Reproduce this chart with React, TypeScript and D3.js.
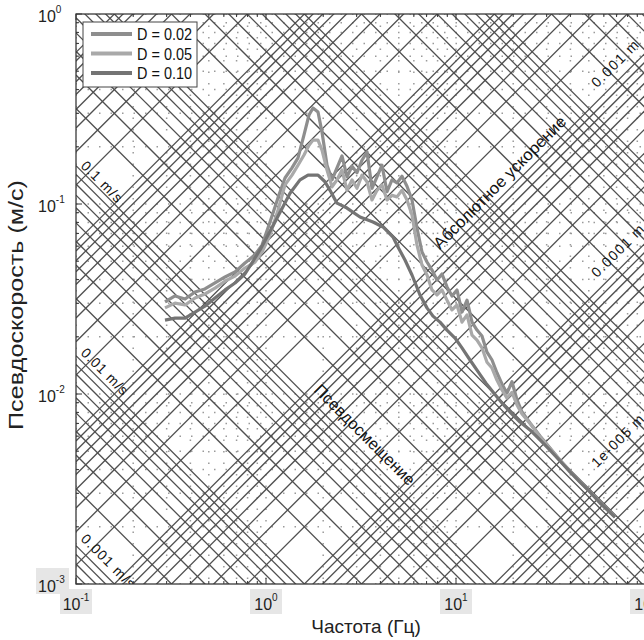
import React from 'react';
import * as d3 from 'd3';

const FONT = '"Liberation Sans", Arial, Helvetica, sans-serif';

// Frequencies (Hz) shared by the D = 0.02 and D = 0.05 spectra
const freqMain = [0.294, 0.332, 0.375, 0.423, 0.477, 0.539, 0.609, 0.687, 0.775, 0.875, 0.953, 1.05, 1.157, 1.259, 1.37, 1.474, 1.585, 1.684, 1.768, 1.878, 1.971, 2.095, 2.226, 2.364, 2.512, 2.669, 2.836, 3.012, 3.201, 3.401, 3.613, 3.839, 4.079, 4.334, 4.604, 4.892, 5.197, 5.522, 5.867, 6.233, 6.623, 7.036, 7.476, 7.943, 8.439, 8.966, 9.526, 10.12, 10.75, 11.43, 12.14, 12.9, 13.7, 14.56, 15.47, 16.44, 17.46, 18.55, 19.71, 20.95, 22.26, 24.52, 27.68, 31.24, 35.27, 39.81, 44.94, 50.73, 57.27, 68.68];
// Pseudo-velocity (m/s), D = 0.02
const psvD02 = [0.0305, 0.0328, 0.0316, 0.0344, 0.0357, 0.0384, 0.0413, 0.0439, 0.0489, 0.0539, 0.0608, 0.0804, 0.108, 0.137, 0.155, 0.175, 0.231, 0.294, 0.32, 0.305, 0.239, 0.16, 0.134, 0.155, 0.179, 0.139, 0.158, 0.146, 0.17, 0.188, 0.121, 0.139, 0.16, 0.116, 0.134, 0.129, 0.14, 0.124, 0.105, 0.0747, 0.0559, 0.0495, 0.0449, 0.0398, 0.0428, 0.0366, 0.0328, 0.0353, 0.027, 0.0312, 0.0239, 0.0217, 0.0202, 0.0166, 0.0151, 0.0129, 0.0113, 0.0101, 0.0116, 0.0093, 0.00804, 0.00704, 0.00601, 0.0052, 0.00449, 0.00393, 0.00348, 0.00305, 0.0027, 0.00225];
// Pseudo-velocity (m/s), D = 0.05
const psvD05 = [0.0284, 0.0301, 0.0294, 0.032, 0.0336, 0.0361, 0.0393, 0.0418, 0.046, 0.0495, 0.0559, 0.0687, 0.093, 0.126, 0.142, 0.16, 0.181, 0.204, 0.217, 0.217, 0.192, 0.151, 0.123, 0.134, 0.151, 0.118, 0.134, 0.121, 0.142, 0.131, 0.105, 0.118, 0.126, 0.105, 0.111, 0.109, 0.118, 0.105, 0.0875, 0.0608, 0.0477, 0.0423, 0.0353, 0.0332, 0.0353, 0.0312, 0.0277, 0.0294, 0.0239, 0.0261, 0.0204, 0.0192, 0.0175, 0.0147, 0.0137, 0.0118, 0.0105, 0.00952, 0.0102, 0.00875, 0.00785, 0.007, 0.00595, 0.00515, 0.00446, 0.00391, 0.00346, 0.00305, 0.00268, 0.00225];
// Frequencies (Hz) and pseudo-velocity (m/s), D = 0.10
const freqD10 = [0.294, 0.332, 0.375, 0.423, 0.477, 0.539, 0.609, 0.687, 0.775, 0.93, 1.115, 1.338, 1.51, 1.664, 1.878, 2.044, 2.172, 2.364, 2.669, 3.124, 3.658, 4.129, 4.661, 4.95, 5.389, 5.867, 6.463, 7.036, 7.566, 8.238, 8.966, 9.879, 10.75, 11.85, 13.06, 14.38, 15.85, 17.46, 19.24, 21.72, 24.52, 27.68, 31.24, 35.27, 39.81, 44.94, 50.73, 57.27, 68.68];
const psvD10 = [0.0245, 0.0251, 0.0251, 0.027, 0.029, 0.032, 0.0353, 0.0384, 0.0428, 0.0573, 0.0804, 0.114, 0.134, 0.142, 0.142, 0.131, 0.118, 0.101, 0.0952, 0.0854, 0.0804, 0.0757, 0.067, 0.0594, 0.0507, 0.0423, 0.0332, 0.0284, 0.0257, 0.0239, 0.0217, 0.0197, 0.0175, 0.0151, 0.0131, 0.0114, 0.0101, 0.00897, 0.00804, 0.00712, 0.00647, 0.00573, 0.00507, 0.00444, 0.00389, 0.00344, 0.00305, 0.00267, 0.00225];

const seriesLabels = ['D = 0.02', 'D = 0.05', 'D = 0.10'];
const seriesColors = ['#8e8e8e', '#a9a9a9', '#747474'];

const xTickExps = [-1, 0, 1, 2];
const yTickExps = [0, -1, -2, -3];
const gridMultipliers = [1, 2, 3, 4, 5, 6, 7, 8, 9];
const dispDecades = [-7, -6, -5, -4, -3, -2, -1, 0];
const accelDecades = [-4, -3, -2, -1, 0, 1, 2];

const accelLabelValues = [0.1, 0.01, 0.001];
const accelLabelTexts = ['0.1 m/s', '0.01 m/s', '0.001 m/s'];
const accelLabelLengths = [52, 60, 70];
const accelLabelDy = [-3, -6, -10];
const dispLabelValues = [0.001, 0.0001, 0.00001];
const dispLabelTexts = ['0.001 m', '0.0001 m', '1e-005 m'];
const dispLabelLengths = [60, 68, 68];

const xTitle = 'Частота (Гц)';
const yTitle = 'Псевдоскорость (м/с)';
const accelTitle = 'Абсолютное ускорение';
const dispTitle = 'Псевдосмещение';

const W = 644;
const H = 640;
const L = 76;
const R = 646;
const T = 14;
const B = 584;

export default function App() {
  const x = d3.scaleLog().domain([0.1, 100]).range([L, R]);
  const y = d3.scaleLog().domain([0.001, 1]).range([B, T]);
  const TWO_PI = 2 * Math.PI;

  const series = [
    { f: freqMain, v: psvD02 },
    { f: freqMain, v: psvD05 },
    { f: freqD10, v: psvD10 },
  ].map((s, i) => {
    const n = Math.min(s.f.length, s.v.length);
    const pts: [number, number][] = [];
    for (let k = 0; k < n; k++) pts.push([s.f[k], s.v[k]]);
    return { pts, color: seriesColors[i], label: seriesLabels[i] };
  });

  const line = d3
    .line<[number, number]>()
    .x((d) => x(d[0]))
    .y((d) => y(d[1]))
    .curve(d3.curveLinear);

  const fMin = 0.1;
  const fMax = 100;
  const diag: { x1: number; y1: number; x2: number; y2: number }[] = [];
  dispDecades.forEach((n) =>
    gridMultipliers.forEach((k) => {
      const d = k * Math.pow(10, n);
      diag.push({ x1: x(fMin), y1: y(TWO_PI * fMin * d), x2: x(fMax), y2: y(TWO_PI * fMax * d) });
    })
  );
  accelDecades.forEach((n) =>
    gridMultipliers.forEach((k) => {
      const a = k * Math.pow(10, n);
      diag.push({ x1: x(fMin), y1: y(a / (TWO_PI * fMin)), x2: x(fMax), y2: y(a / (TWO_PI * fMax)) });
    })
  );

  const minorX: number[] = [];
  [-1, 0, 1].forEach((n) => gridMultipliers.forEach((k) => minorX.push(k * Math.pow(10, n))));
  minorX.push(100);
  const minorY: number[] = [];
  [-3, -2, -1].forEach((n) => gridMultipliers.forEach((k) => minorY.push(k * Math.pow(10, n))));
  minorY.push(1);

  const gridColor = '#4f4f4f';

  return (
    <svg
      width={W}
      height={H}
      style={{ position: 'absolute', left: 0, top: 0, display: 'block', background: '#fff' }}
      fontFamily={FONT}
    >
      <defs>
        <clipPath id="plotClip">
          <rect x={L} y={T} width={R - L} height={B - T} />
        </clipPath>
      </defs>
      <rect x={0} y={0} width={W} height={H} fill="#fff" />

      <g clipPath="url(#plotClip)">
        {/* dotted rectangular grid */}
        {minorX.map((f, i) => (
          <line key={'gx' + i} x1={x(f)} x2={x(f)} y1={T} y2={B} stroke="#9a9a9a" strokeWidth={1.5} strokeDasharray="1.5 10" />
        ))}
        {minorY.map((v, i) => (
          <line key={'gy' + i} x1={L} x2={R} y1={y(v)} y2={y(v)} stroke="#9a9a9a" strokeWidth={1.5} strokeDasharray="1.5 10" />
        ))}
        {/* tripartite diagonals */}
        {diag.map((l, i) => (
          <line key={'d' + i} x1={l.x1} y1={l.y1} x2={l.x2} y2={l.y2} stroke={gridColor} strokeWidth={1.3} />
        ))}

        {/* grid labels */}
        {accelLabelValues.map((a, i) => {
          const px = L + 4;
          const py = y(a / (TWO_PI * x.invert(px))) + accelLabelDy[i];
          return (
            <text key={'al' + i} x={px} y={py} transform={`rotate(45 ${px} ${py})`} fontSize={14} fill="#111"
              textLength={accelLabelLengths[i]} lengthAdjust="spacing">
              {accelLabelTexts[i]}
            </text>
          );
        })}
        {dispLabelValues.map((d, i) => {
          const px = 597;
          const py = y(TWO_PI * x.invert(px) * d) - 13;
          return (
            <text key={'dl' + i} x={px} y={py} transform={`rotate(-45 ${px} ${py})`} fontSize={14} fill="#111"
              textLength={dispLabelLengths[i]} lengthAdjust="spacing">
              {dispLabelTexts[i]}
            </text>
          );
        })}
        <text x={440} y={250} transform="rotate(-45 440 250)" fontSize={16.5} fill="#111" textLength={180} lengthAdjust="spacingAndGlyphs">
          {accelTitle}
        </text>
        <text x={313} y={391} transform="rotate(45 313 391)" fontSize={16.5} fill="#111" textLength={135} lengthAdjust="spacingAndGlyphs">
          {dispTitle}
        </text>

        {/* spectra */}
        {series.map((s, i) => (
          <path key={'s' + i} d={line(s.pts) || ''} fill="none" stroke={s.color} strokeWidth={3.2} strokeLinejoin="round" />
        ))}
      </g>

      {/* ticks */}
      {minorX.map((f, i) => {
        const major = Math.abs(Math.log10(f) - Math.round(Math.log10(f))) < 1e-6;
        const len = major ? 6 : 3;
        return (
          <g key={'tx' + i}>
            <line x1={x(f)} x2={x(f)} y1={B} y2={B - len} stroke="#333" />
            <line x1={x(f)} x2={x(f)} y1={T} y2={T + len} stroke="#333" />
          </g>
        );
      })}
      {minorY.map((v, i) => {
        const major = Math.abs(Math.log10(v) - Math.round(Math.log10(v))) < 1e-6;
        const len = major ? 6 : 3;
        return <line key={'ty' + i} x1={L} x2={L + len} y1={y(v)} y2={y(v)} stroke="#333" />;
      })}

      {/* frame */}
      <rect x={L} y={T} width={R - L} height={B - T} fill="none" stroke="#3a3a3a" strokeWidth={1.3} />

      {/* legend */}
      <rect x={83} y={22} width={114} height={65} fill="#fff" stroke="#444" strokeWidth={1} />
      {series.map((s, i) => (
        <g key={'lg' + i}>
          <line x1={91} x2={132} y1={34 + i * 19.5} y2={34 + i * 19.5} stroke={s.color} strokeWidth={4} />
          <text x={137} y={34 + i * 19.5 + 6} fontSize={16} fill="#111" textLength={55} lengthAdjust="spacingAndGlyphs">
            {s.label}
          </text>
        </g>
      ))}

      {/* x tick labels */}
      {xTickExps.map((e) => {
        const cx = x(Math.pow(10, e));
        return (
          <g key={'xl' + e}>
            <rect x={cx - 16} y={589} width={32} height={25} fill="#e6e6e6" />
            <text x={cx} y={610} textAnchor="middle" fontSize={16} fill="#222">
              10
              <tspan dy={-9} fontSize={10}>{String(e)}</tspan>
            </text>
          </g>
        );
      })}

      {/* y tick labels */}
      {yTickExps.map((e) => {
        const cy = y(Math.pow(10, e));
        return (
          <g key={'yl' + e}>
            {e === -3 && <rect x={36} y={568} width={33} height={26} fill="#e6e6e6" />}
            <text x={38} y={cy + 7.5} fontSize={16} fill="#222">
              10
              <tspan dy={-8.5} fontSize={10}>{String(e)}</tspan>
            </text>
          </g>
        );
      })}

      {/* axis titles */}
      <text x={366} y={633} textAnchor="middle" fontSize={19} fill="#222">
        {xTitle}
      </text>
      <text x={23} y={305} textAnchor="middle" fontSize={20} fill="#222" transform="rotate(-90 23 305)"
        textLength={250} lengthAdjust="spacingAndGlyphs">
        {yTitle}
      </text>
    </svg>
  );
}
